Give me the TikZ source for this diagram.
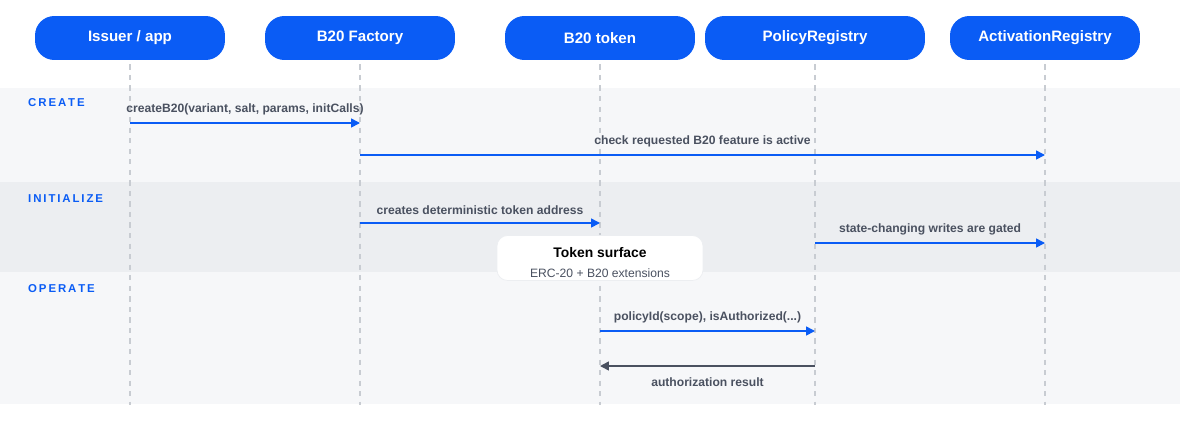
\documentclass[tikz,border=0pt]{standalone}
\usepackage{fontspec}
\setmainfont{Liberation Sans}
\usetikzlibrary{positioning, arrows.meta}
\definecolor{ablue}{HTML}{0A5CF5}
\definecolor{agray}{HTML}{4A5160}
\definecolor{bandA}{HTML}{F6F7F9}
\definecolor{bandB}{HTML}{ECEEF1}
\definecolor{lgray}{HTML}{C8CCD2}
\begin{document}
\begin{tikzpicture}
    [
        x=0.02cm, y=-0.02cm,
        actor/.style={rounded corners=11pt, fill=ablue, text=white, font=\fontsize{8.6}{10}\selectfont\bfseries, minimum width=3.8cm, minimum height=0.88cm},
        lifeline/.style={draw=lgray, dashed, line width=0.7pt},
        msg/.style={-{Triangle[length=5pt,width=5pt]}, draw=ablue, line width=0.9pt},
        reply/.style={-{Triangle[length=5pt,width=5pt]}, draw=agray, line width=0.9pt},
        mlabel/.style={text=agray, font=\fontsize{6.9}{8}\selectfont\bfseries},
        phase/.style={text=ablue, font=\fontsize{6.5}{8}\selectfont\bfseries, anchor=west},
    ]
        \useasboundingbox (0,0) rectangle (1180,430);
        % phase bands
        \fill[bandA] (0,88) rectangle (1180,182);
        \fill[bandB] (0,182) rectangle (1180,272);
        \fill[bandA] (0,272) rectangle (1180,404);
        \node[phase] (create) at (22,103) {C\,R\,E\,A\,T\,E};
        \node[phase] (init) at (22,199) {I\,N\,I\,T\,I\,A\,L\,I\,Z\,E};
        \node[phase] (operate) at (22,289) {O\,P\,E\,R\,A\,T\,E};
        % actors
        \node[actor] (issuer) at (130,38) {Issuer / app};
        \node[actor] (factory) at (360,38) {B20 Factory};
        \node[actor] (token) at (600,38) {B20 token};
        \node[actor, minimum width=4.4cm] (policy) at (815,38) {PolicyRegistry};
        \node[actor] (activation) at (1045,38) {ActivationRegistry};
        % lifelines
        \foreach \a/\x in {issuer/130, factory/360, token/600, policy/815, activation/1045}
        {
            \coordinate (\a-end) at (\x,405);
            \draw[lifeline] (\a.south) ++(0,4) -- (\a-end);
        }
        % message points
        \coordinate (iss1) at (130,123); \coordinate (fac1) at (360,123);
        \coordinate (fac2) at (360,155); \coordinate (act2) at (1045,155);
        \coordinate (fac3) at (360,223); \coordinate (tok3) at (600,223);
        \coordinate (pol4) at (815,243); \coordinate (act4) at (1045,243);
        \coordinate (tok5) at (600,331); \coordinate (pol5) at (815,331);
        \coordinate (pol6) at (815,366); \coordinate (tok6) at (600,366);
        % token surface
        \node[fill=white, draw=bandB, rounded corners=6pt, minimum width=4.12cm, minimum height=0.9cm] (surface) at (600,258) {};
        \node[font=\fontsize{7.9}{9}\selectfont\bfseries] (surftitle) at (600,253) {Token surface};
        \node[text=agray, font=\fontsize{6.9}{8}\selectfont] (surfsub) at (600,273) {ERC-20 + B20 extensions};
        % messages
        \draw[msg] (iss1) -- node[mlabel, above=1pt] {createB20(variant, salt, params, initCalls)} (fac1);
        \draw[msg] (fac2) -- node[mlabel, above=1pt] {check requested B20 feature is active} (act2);
        \draw[msg] (fac3) -- node[mlabel, above=1pt] {creates deterministic token address} (tok3);
        \draw[msg] (pol4) -- node[mlabel, above=1pt] {state-changing writes are gated} (act4);
        \draw[msg] (tok5) -- node[mlabel, above=1pt] {policyId(scope), isAuthorized(...)} (pol5);
        \draw[reply] (pol6) -- node[mlabel, below=3pt] {authorization result} (tok6);
\end{tikzpicture}
\end{document}
